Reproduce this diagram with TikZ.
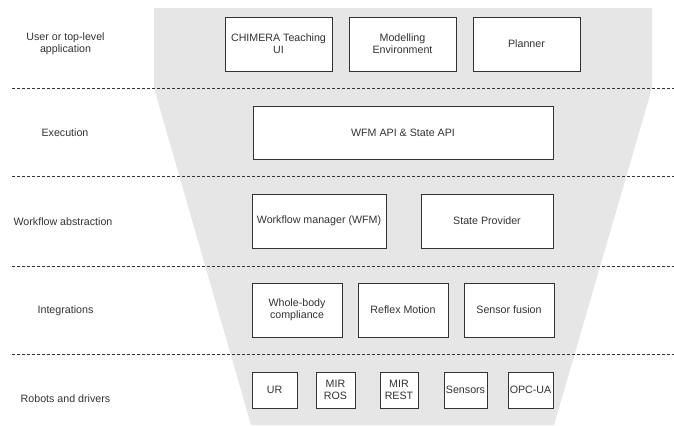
\documentclass[tikz,border=0pt]{standalone}
\usepackage{fontspec}
\setmainfont{Liberation Sans}
\usepackage{tikz}

\definecolor{funnelgrey}{HTML}{E6E6E6}
\definecolor{inkgrey}{HTML}{333333}

\tikzset{
    blk/.style 2 args={draw=inkgrey, line width=0.75pt, fill=white, align=center,
        inner sep=1pt, minimum width=#1*0.75pt, minimum height=#2*0.75pt},
    layer/.style={align=center, text=inkgrey},
    sep/.style={draw=inkgrey, line width=0.75pt, dash pattern=on 2.25pt off 1.5pt}
}

\begin{document}
\begin{tikzpicture}[x=0.75pt, y=-0.75pt, font=\fontsize{8pt}{9pt}\selectfont, text=inkgrey]
    \useasboundingbox (0,0) rectangle (674,425);
    % Trichter im Hintergrund
    \fill[funnelgrey] (154,8) -- (652,8) -- (652,88) -- (554,425) -- (251,425) -- (154,88) -- cycle;
    % Trennlinien zwischen den Schichten
    \foreach \yy in {88,176.5,266,354.5}
        \draw[sep] (12,\yy) -- (674,\yy);

    % Bezeichnungen der Schichten
    \node[layer] (lbl-user) at (65.5,44)  {User or top-level\\application};
    \node[layer] (lbl-exec) at (65,133)   {Execution};
    \node[layer] (lbl-wf)   at (63,222)   {Workflow abstraction};
    \node[layer] (lbl-int)  at (65.5,311) {Integrations};
    \node[layer] (lbl-rob)  at (65.5,399) {Robots and drivers};

    % Anwendungen
    \node[blk={107}{54}] (chimera)   at (278.5,44) {CHIMERA Teaching\\UI};
    \node[blk={107}{54}] (modelling) at (402.5,44) {Modelling\\Environment};
    \node[blk={107}{54}] (planner)   at (526.5,44) {Planner};
    % Ausfuehrung
    \node[blk={300}{53}] (api) at (403,132.5) {WFM API \& State API};
    % Workflow
    \node[blk={134}{54}] (wfm)   at (319,221) {Workflow manager (WFM)};
    \node[blk={132}{54}] (state) at (487,221) {State Provider};
    % Integrationen
    \node[blk={90}{54}] (wbc)    at (297,310) {Whole-body\\compliance};
    \node[blk={90}{54}] (reflex) at (403,310) {Reflex Motion};
    \node[blk={90}{54}] (fusion) at (509,310) {Sensor fusion};
    % Roboter und Treiber
    \node[blk={45}{36}] (ur)      at (274.5,390) {UR};
    \node[blk={39}{36}] (mirros)  at (335.5,390) {MIR\\ROS};
    \node[blk={38}{36}] (mirrest) at (399,390)   {MIR\\REST};
    \node[blk={43}{36}] (sensors) at (465.5,390) {Sensors};
    \node[blk={45}{36}] (opcua)   at (530.5,390) {OPC-UA};
\end{tikzpicture}
\end{document}
